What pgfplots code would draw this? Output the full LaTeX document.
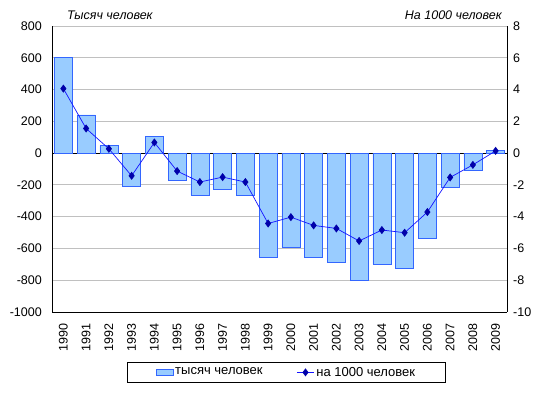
\documentclass[border=0pt]{standalone}
\usepackage{pgfplots}
\pgfplotsset{compat=1.18}
\usepackage{fontspec}
\setmainfont{Liberation Sans}
\definecolor{barfill}{RGB}{153,204,255}
\definecolor{baredge}{RGB}{51,102,255}
\definecolor{lineblue}{RGB}{20,20,255}
\definecolor{markblue}{RGB}{0,0,170}
\definecolor{gridgray}{RGB}{192,192,192}
\begin{document}
\fontsize{12}{14}\selectfont
\begin{tikzpicture}
\path (-52pt,-81pt) rectangle (492pt,312pt);
\begin{axis}[
  at={(0,0)}, anchor=south west,
  scale only axis, width=455pt, height=286pt,
  xmin=-0.5, xmax=19.5, ymin=-1000, ymax=800,
  ytick={-1000,-800,...,800},
  xtick={0,...,19},
  xticklabels={1990,1991,1992,1993,1994,1995,1996,1997,1998,1999,2000,2001,2002,2003,2004,2005,2006,2007,2008,2009},
  x tick label style={rotate=90, anchor=east, font=\fontsize{12.5}{14}\selectfont, xshift=-3pt},
  y tick label style={font=\fontsize{12.5}{14}\selectfont, xshift=-6pt},
  /pgf/number format/assume math mode=true,
  /pgf/number format/1000 sep={},
  ymajorgrids, grid style={gridgray, line width=0.8pt},
  extra y ticks={0}, extra y tick labels={},
  extra y tick style={grid style={black, line width=0.8pt}},
  axis x line*=bottom, axis y line*=left,
  axis line style={black, line width=0.8pt, -},
  tick style={draw=none},
  ybar, bar width=0.79,
]
\addplot[fill=barfill, draw=baredge, line width=0.6pt] coordinates {
(0,603) (1,240) (2,46) (3,-206) (4,103) (5,-170) (6,-264) (7,-226) (8,-264) (9,-654)
(10,-591) (11,-654) (12,-686) (13,-799) (14,-698) (15,-726) (16,-535) (17,-214) (18,-107) (19,19)};
\end{axis}
\begin{axis}[
  at={(0,0)}, anchor=south west,
  scale only axis, width=455pt, height=286pt,
  xmin=-0.5, xmax=19.5, ymin=-10, ymax=8,
  ytick={-10,-8,...,8},
  axis x line=none, axis y line*=right,
  axis line style={black, line width=0.8pt, -},
  tick style={draw=none},
  y tick label style={font=\fontsize{12.5}{14}\selectfont, xshift=2pt},
  /pgf/number format/assume math mode=true,
  legend columns=2,
  legend style={at={(0.515,-0.175)}, anchor=north, draw=black, line width=0.8pt,
    font=\fontsize{13}{15}\selectfont, inner xsep=28pt, inner ysep=2.5pt,
    /tikz/every even column/.append style={column sep=32pt}},
  legend image post style={line width=0.6pt},
]
\addlegendimage{area legend, fill=barfill, draw=baredge, line width=0.6pt}
\addlegendentry{тысяч человек}
\addplot[lineblue, line width=0.7pt, mark=diamond*, mark size=3.5pt, mark options={fill=markblue, draw=markblue}] coordinates {
(0,4.06) (1,1.55) (2,0.27) (3,-1.43) (4,0.67) (5,-1.13) (6,-1.82) (7,-1.51) (8,-1.82) (9,-4.43)
(10,-4.03) (11,-4.55) (12,-4.74) (13,-5.53) (14,-4.84) (15,-5.01) (16,-3.71) (17,-1.53) (18,-0.74) (19,0.14)};
\addlegendentry{на 1000 человек}
\end{axis}
\node[anchor=base west, font=\itshape\fontsize{12.5}{14}\selectfont] at (11pt,292pt) {Тысяч человек};
\node[anchor=base east, font=\itshape\fontsize{12.5}{14}\selectfont] at (454pt,292pt) {На 1000 человек};
\end{tikzpicture}
\end{document}
